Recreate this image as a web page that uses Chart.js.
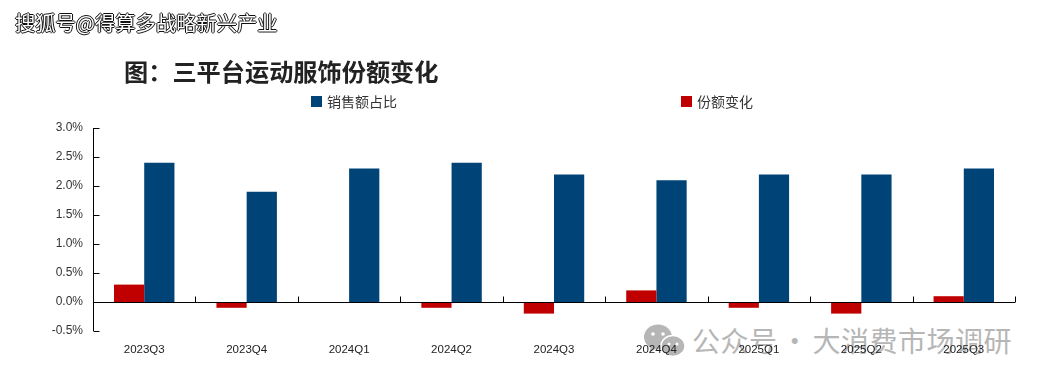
<!DOCTYPE html>
<html lang="zh">
<head>
<meta charset="utf-8">
<style>
html,body{margin:0;padding:0;background:#fff;overflow:hidden}
#stage{position:relative;width:1044px;height:383px;font-family:"Noto Sans CJK SC",sans-serif;overflow:hidden}
#stage canvas{position:absolute;left:0;top:0;z-index:2}
.txt{position:absolute;white-space:nowrap;line-height:1}
#src{left:15px;top:12px;font-size:20.3px;color:#fff;z-index:3;
 text-shadow:-1px 0 0 #111,1px 0 0 #111,0 -1px 0 #111,0 1px 0 #111}
#title{left:124px;top:59px;font-size:24.2px;font-weight:700;color:#222;z-index:3}
#wm{left:692px;top:326px;font-size:28px;color:#b6b6b6;z-index:1;letter-spacing:.5px;word-spacing:-3.5px}
#icon{position:absolute;left:643px;top:323px;z-index:1}
.lg{position:absolute;top:96px;height:11px;z-index:3}
.lg i{position:absolute;left:0;top:0;width:11px;height:11px}
.lg span{position:absolute;left:16px;top:-2px;font-size:14px;line-height:15px;color:#333;white-space:nowrap}
</style>
</head>
<body>
<div id="stage">
  <div class="txt" id="src">搜狐号@得算多战略新兴产业</div>
  <div class="txt" id="title">图:三平台运动服饰份额变化</div>
  <svg id="icon" width="42" height="36" viewBox="0 0 42 36">
    <ellipse cx="15" cy="14" rx="14" ry="12.5" fill="#b6b6b6"/>
    <path d="M8 23 L6 30 L14 25Z" fill="#b6b6b6"/>
    <ellipse cx="30" cy="23" rx="12" ry="10.5" fill="#b6b6b6" stroke="#fff" stroke-width="1.5"/>
    <circle cx="10" cy="11" r="1.8" fill="#fff"/><circle cx="20" cy="11" r="1.8" fill="#fff"/>
    <circle cx="26" cy="21" r="1.5" fill="#fff"/><circle cx="34" cy="21" r="1.5" fill="#fff"/>
  </svg>
  <div class="txt" id="wm">公众号 · 大消费市场调研</div>
  <div id="legend"></div>
  <canvas id="c" width="1044" height="383"></canvas>
</div>
<script src="https://cdn.jsdelivr.net/npm/chart.js@4/dist/chart.umd.min.js"></script>
<script>
const categories = ["2023Q3","2023Q4","2024Q1","2024Q2","2024Q3","2024Q4","2025Q1","2025Q2","2025Q3"];
const shareChange = [0.3,-0.1,0,-0.1,-0.2,0.2,-0.1,-0.2,0.1];
const salesShare = [2.4,1.9,2.3,2.4,2.2,2.1,2.2,2.2,2.3];
const seriesNames = ["份额变化","销售额占比"];
const seriesColors = ["#C00000","#004376"];
const legendOrder = [[1,311],[0,681]];

const xFont = {family:'"Liberation Sans",sans-serif',size:11.5};
const yFont = {family:'"Liberation Sans",sans-serif',size:12};

const axisMarks = {
  id:'axisMarks',
  afterDatasetsDraw(chart){
    const {ctx,scales:{x,y}} = chart;
    const zero = y.getPixelForValue(0);
    ctx.save();
    ctx.strokeStyle='#000';ctx.lineWidth=1;
    ctx.beginPath();
    const ax=Math.round(x.left)+.5, az=Math.round(zero)+.5;
    ctx.moveTo(ax,y.top);ctx.lineTo(ax,y.bottom);
    ctx.moveTo(x.left,az);ctx.lineTo(x.right,az);
    y.ticks.forEach(t=>{
      const p=Math.round(y.getPixelForValue(t.value))+.5;
      ctx.moveTo(ax,p);ctx.lineTo(ax+6,p);
    });
    const step=(x.right-x.left)/categories.length;
    for(let i=0;i<=categories.length;i++){
      const p=Math.round(x.left+step*i)+.5;
      ctx.moveTo(p,az);ctx.lineTo(p,az-6);
    }
    ctx.stroke();
    ctx.restore();
  }
};

document.getElementById('title').textContent='图\uFF1A三平台运动服饰份额变化';

const chart = new Chart(document.getElementById('c'),{
  type:'bar',
  data:{
    labels:categories,
    datasets:[
      {label:seriesNames[0],data:shareChange,backgroundColor:seriesColors[0]},
      {label:seriesNames[1],data:salesShare,backgroundColor:seriesColors[1]}
    ]
  },
  options:{
    responsive:false,animation:false,
    layout:{padding:{left:0,right:29,top:128,bottom:0}},
    datasets:{bar:{barPercentage:1,categoryPercentage:0.59}},
    plugins:{legend:{display:false},title:{display:false},tooltip:{enabled:false}},
    scales:{
      x:{
        grid:{display:false},border:{display:false},
        ticks:{color:'#222',font:xFont,maxRotation:0,autoSkip:false,padding:4},
        afterFit(s){s.height=52;}
      },
      y:{
        min:-0.5,max:3,
        grid:{display:false},border:{display:false},
        ticks:{stepSize:0.5,color:'#333',font:yFont,padding:2,
          callback:v=>v.toFixed(1)+'%'},
        afterFit(s){s.width=93;}
      }
    }
  },
  plugins:[axisMarks]
});

const lg=document.getElementById('legend');
legendOrder.forEach(([idx,left])=>{
  const d=document.createElement('div');d.className='lg';d.style.left=left+'px';
  const i=document.createElement('i');i.style.background=seriesColors[idx];
  const s=document.createElement('span');s.textContent=seriesNames[idx];
  d.append(i,s);lg.append(d);
});
</script>
</body>
</html>
